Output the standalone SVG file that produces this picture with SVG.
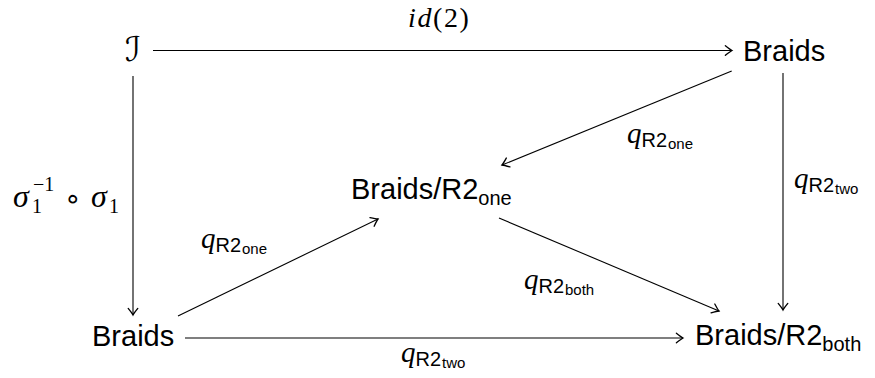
<svg xmlns="http://www.w3.org/2000/svg" width="875" height="378" viewBox="0 0 875 378">
<style>
.node{font-family:"Liberation Sans",Arial,sans-serif;font-size:29px;fill:#000}
.m{font-family:"Liberation Serif","Times New Roman",serif;font-style:italic;font-size:29px;fill:#000}
.rm{font-family:"Liberation Serif","Times New Roman",serif;font-size:28px;fill:#000}
.s1{font-family:"Liberation Sans",Arial,sans-serif;font-size:20px;fill:#000}
.s2{font-family:"Liberation Sans",Arial,sans-serif;font-size:15px;fill:#000}
.ms{font-family:"Liberation Serif","Times New Roman",serif;font-size:20px;fill:#000}
.arr{stroke:#000;stroke-width:1.1;fill:none;marker-end:url(#ah)}
</style>
<defs>
<marker id="ah" markerUnits="userSpaceOnUse" markerWidth="12" markerHeight="12" viewBox="-7 -5 8 10" refX="0" refY="0" orient="auto">
<path d="M-5.5,-4 Q-1.5,-0.8 0,0 Q-1.5,0.8 -5.5,4" fill="none" stroke="#000" stroke-width="1.1" stroke-linecap="round"/>
</marker>
</defs>
<g id="connectors">
<line class="arr" x1="153" y1="50.5" x2="732" y2="50.5"/>
<line class="arr" x1="133" y1="76" x2="133" y2="315"/>
<line class="arr" x1="783" y1="73" x2="783" y2="310"/>
<line class="arr" x1="731.7" y1="71" x2="502" y2="165"/>
<line class="arr" x1="178" y1="316" x2="378" y2="219"/>
<line class="arr" x1="499" y1="218" x2="719" y2="311"/>
<line class="arr" x1="185" y1="338" x2="683" y2="338"/>
</g>
<g id="node-I"><text x="133" y="61" text-anchor="middle" style="font-family:'DejaVu Serif','DejaVu Sans',serif;font-size:34px">ℐ</text></g>
<g id="node-braids-top"><text class="node" x="743" y="61">Braids</text></g>
<g id="node-braids-r2one"><text class="node" x="351" y="199">Braids/R2<tspan class="s1" dy="6">one</tspan></text></g>
<g id="node-braids-bottom"><text class="node" x="92" y="346">Braids</text></g>
<g id="node-braids-r2both"><text class="node" x="695" y="345">Braids/R2<tspan class="s1" dy="6">both</tspan></text></g>
<g id="labels">
<text x="408" y="27" class="rm" style="letter-spacing:1.6px"><tspan class="m" style="font-size:28px">id</tspan>(2)</text>
<text class="m" x="13" y="207" style="font-size:32px">σ</text>
<text class="ms" x="33" y="191">−1</text>
<text class="ms" x="32" y="213">1</text>
<text x="64" y="208" style="font-family:'DejaVu Sans',sans-serif;font-size:28px">∘</text>
<text class="m" x="91" y="207" style="font-size:32px">σ</text>
<text class="ms" x="109" y="213">1</text>
<text x="627" y="143"><tspan class="m">q</tspan><tspan class="s1" x="641.5" y="147">R2</tspan><tspan class="s2" x="668" y="149">one</tspan></text>
<text x="201" y="248"><tspan class="m">q</tspan><tspan class="s1" x="215.5" y="252">R2</tspan><tspan class="s2" x="242" y="254">one</tspan></text>
<text x="794" y="188"><tspan class="m">q</tspan><tspan class="s1" x="808.5" y="192">R2</tspan><tspan class="s2" x="835" y="194">two</tspan></text>
<text x="524" y="289"><tspan class="m">q</tspan><tspan class="s1" x="538.5" y="293">R2</tspan><tspan class="s2" x="565" y="295">both</tspan></text>
<text x="401" y="362"><tspan class="m">q</tspan><tspan class="s1" x="415.5" y="366">R2</tspan><tspan class="s2" x="442" y="368">two</tspan></text>
</g>
</svg>
